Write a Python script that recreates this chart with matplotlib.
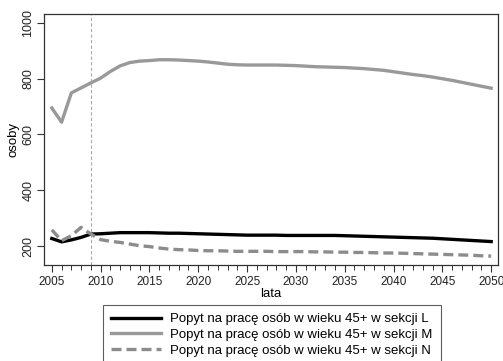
import matplotlib
matplotlib.use("Agg")
import matplotlib.pyplot as plt
from matplotlib.ticker import MultipleLocator

plt.rcParams['font.family'] = ['Liberation Sans', 'DejaVu Sans']

years = list(range(2005, 2051))

sekcja_L = [227, 215, 222, 231, 243, 244, 246, 248, 248, 248,
            248, 247, 246, 246, 245, 244, 243, 242, 241, 240,
            239, 239, 239, 239, 238, 238, 238, 238, 238, 238,
            237, 236, 235, 234, 233, 232, 231, 230, 229, 228,
            226, 224, 222, 220, 218, 216]

sekcja_M = [695, 644, 749, 767, 785, 802, 826, 846, 858, 863,
            865, 868, 868, 867, 865, 863, 860, 856, 852, 850,
            849, 849, 849, 849, 848, 847, 845, 843, 842, 841,
            840, 838, 836, 833, 830, 825, 820, 815, 811, 806,
            800, 794, 787, 780, 773, 766]

sekcja_N = [258, 219, 237, 267, 243, 223, 217, 213, 207, 201,
            198, 193, 189, 187, 186, 184, 183, 183, 182, 181,
            181, 181, 181, 180, 180, 180, 180, 179, 179, 178,
            178, 177, 177, 176, 175, 175, 174, 173, 172, 171,
            170, 169, 168, 167, 165, 164]

labels = ["Popyt na pracę osób w wieku 45+ w sekcji L",
          "Popyt na pracę osób w wieku 45+ w sekcji M",
          "Popyt na pracę osób w wieku 45+ w sekcji N"]

W, H = 503, 361
fig = plt.figure(figsize=(W / 100, H / 100), dpi=100)
ax = fig.add_axes([44 / W, 1 - 265 / H, (498 - 44) / W, (265 - 14) / H])

ax.plot(years, sekcja_L, color='black', lw=2.4, label=labels[0])
ax.plot(years, sekcja_M, color='#999999', lw=2.4, label=labels[1])
ax.plot(years, sekcja_N, color='#8c8c8c', lw=2.4, ls=(0, (3, 1.5)), label=labels[2])
ax.axvline(2009, color='#aaaaaa', lw=0.8, ls=(0, (3, 2)))

ax.set_xlim(2004.2, 2050.7)
ax.set_ylim(132, 1032)
ax.set_xticks(range(2005, 2051, 5))
ax.xaxis.set_minor_locator(MultipleLocator(1))
ax.set_yticks([200, 400, 600, 800, 1000])
ax.tick_params(axis='both', which='major', direction='out', length=5, width=0.8,
               labelsize=8.5, color='#333333', labelcolor='#222222')
ax.tick_params(axis='y', labelsize=9)
ax.tick_params(axis='x', which='minor', direction='out', length=3.5, width=0.7, color='#333333')
for lab in ax.get_yticklabels():
    lab.set_rotation(90)
    lab.set_va('center')
ax.tick_params(axis='y', pad=2)
ax.tick_params(axis='x', pad=3)
for s in ax.spines.values():
    s.set_linewidth(0.9)
    s.set_color('#333333')

ax.set_xlabel('lata', fontsize=9.5, labelpad=0)
ax.set_ylabel('osoby', fontsize=9.5, labelpad=2)

leg = fig.legend(loc='upper left', bbox_to_anchor=(103 / W, 1 - 305 / H),
                 bbox_transform=fig.transFigure, fontsize=9.5, frameon=True,
                 fancybox=False, edgecolor='#333333', handlelength=3.8,
                 handletextpad=0.7, labelspacing=0.28, borderpad=0.6,
                 borderaxespad=0)
leg.get_frame().set_linewidth(0.8)

fig.savefig('out.png', dpi=100)
